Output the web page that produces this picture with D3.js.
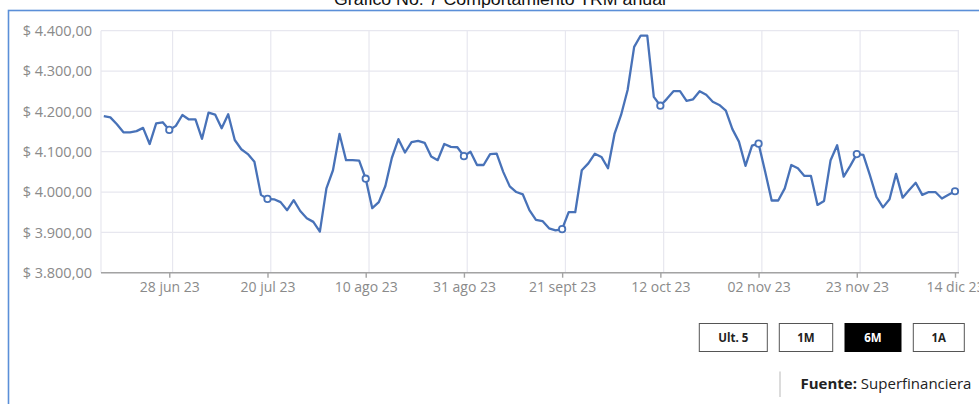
<!DOCTYPE html>
<html><head><meta charset="utf-8">
<script src="https://cdn.jsdelivr.net/npm/d3@7"></script>
<style>
html,body{margin:0;padding:0;background:#fff;}
svg{display:block;}
</style></head>
<body>
<svg id="c" width="979" height="404"></svg>
<script>
// ---- data ----
const title = "Gráfico No. 7 Comportamiento TRM anual";
const trmValues = [
4188,4185,4168,4148,4148,4151,4159,4119,4170,4173,
4154,4164,4191,4180,4180,4132,4197,4192,4158,4193,
4129,4106,4094,4075,3993,3983,3982,3975,3955,3980,
3953,3935,3926,3902,4009,4054,4144,4079,4079,4078,
4033,3960,3975,4015,4085,4131,4098,4124,4127,4122,
4088,4079,4119,4112,4111,4089,4100,4067,4067,4094,
4095,4050,4014,4000,3994,3955,3931,3928,3910,3905,
3908,3950,3950,4054,4071,4095,4087,4059,4144,4191,
4253,4360,4388,4388,4236,4214,4231,4250,4250,4226,
4230,4250,4241,4224,4216,4202,4156,4125,4065,4115,
4120,4051,3979,3979,4009,4067,4059,4040,4040,3968,
3978,4079,4116,4038,4065,4094,4092,4042,3988,3962,
3982,4045,3986,4005,4023,3993,4000,4000,3984,3993,
4002];
const tickIndex = [10,25,40,55,70,85,100,115,130];
const tickLabels = ["28 jun 23","20 jul 23","10 ago 23","31 ago 23","21 sept 23","12 oct 23","02 nov 23","23 nov 23","14 dic 23"];
const yTicks = [3800,3900,4000,4100,4200,4300,4400];
const buttons = ["Ult. 5","1M","6M","1A"];
const activeButton = "6M";
const sourceLabel = "Fuente:";
const sourceText = " Superfinanciera";

// ---- layout ----
const svg = d3.select("#c");
const plotL = 101, plotR = 959, plotT = 30.7, plotB = 272.7;
const x = d3.scaleLinear().domain([0, trmValues.length - 1]).range([103.8, 955]);
const y = d3.scaleLinear().domain([3800, 4400]).range([plotB, plotT]);
const loc = d3.formatLocale({decimal: ",", thousands: ".", grouping: [3], currency: ["$ ", ""]});
const fmt = loc.format("$,.2f");
const gray = "#8a8a8a";
const font = "'Open Sans', sans-serif";

// frame
svg.append("rect").attr("x", 8.5).attr("y", 10.5).attr("width", 1000).attr("height", 420)
  .attr("fill", "none").attr("stroke", "#5b8fd8").attr("stroke-width", 1.6);

// title
svg.append("text").attr("x", 500).attr("y", 4.5).attr("text-anchor", "middle")
  .attr("font-family", "'Liberation Sans', Arial, sans-serif").attr("font-size", 16)
  .attr("textLength", 332).attr("lengthAdjust", "spacingAndGlyphs")
  .attr("fill", "#111").text(title);

// grid horizontal
svg.append("g").selectAll("line").data(yTicks).join("line")
  .attr("x1", plotL).attr("x2", plotR)
  .attr("y1", d => y(d)).attr("y2", d => y(d))
  .attr("stroke", "#e7e7ef").attr("stroke-width", 1.2);
// grid vertical
svg.append("line").attr("x1", plotL).attr("x2", plotL).attr("y1", plotT).attr("y2", plotB)
  .attr("stroke", "#e7e7ef").attr("stroke-width", 1.2);
svg.append("g").selectAll("line").data(tickIndex).join("line")
  .attr("x1", d => x(d) + 3.3).attr("x2", d => x(d) + 3.3)
  .attr("y1", plotT).attr("y2", plotB)
  .attr("stroke", "#e7e7ef").attr("stroke-width", 1.2);

// y axis labels
const yAxis = svg.append("g").attr("transform", `translate(${92},0)`)
  .call(d3.axisLeft(y).tickValues(yTicks).tickFormat(fmt).tickSize(0).tickPadding(0));
yAxis.select(".domain").remove();
yAxis.selectAll("text").attr("font-family", font).attr("font-size", 14.5).attr("fill", gray);

// x axis
svg.append("line").attr("x1", plotL).attr("x2", plotR).attr("y1", plotB).attr("y2", plotB)
  .attr("stroke", "#a3a3a3").attr("stroke-width", 1.6);
const xAxis = svg.append("g").attr("transform", `translate(0,${plotB})`)
  .call(d3.axisBottom(x).tickValues(tickIndex).tickFormat((d, i) => tickLabels[i]).tickSize(5).tickPadding(4).tickSizeOuter(0));
xAxis.select(".domain").remove();
xAxis.selectAll(".tick line").attr("stroke", "#a3a3a3").attr("stroke-width", 1.4);
xAxis.selectAll("text").attr("font-family", font).attr("font-size", 14).attr("fill", gray);

// line
const line = d3.line().x((d, i) => x(i)).y(d => y(d));
svg.append("path").datum(trmValues).attr("d", line)
  .attr("fill", "none").attr("stroke", "#4872b8").attr("stroke-width", 2.3)
  .attr("stroke-linejoin", "round");
svg.append("g").selectAll("circle").data(tickIndex).join("circle")
  .attr("cx", d => x(d)).attr("cy", d => y(trmValues[d])).attr("r", 3.2)
  .attr("fill", "#fff").attr("stroke", "#4872b8").attr("stroke-width", 1.8);

// buttons
const bx = d3.scaleOrdinal().domain(buttons).range([699.3, 779.3, 845, 913.3]);
const bw = d3.scaleOrdinal().domain(buttons).range([68, 53.4, 56, 51]);
const bg = svg.append("g").selectAll("g").data(buttons).join("g")
  .attr("transform", d => `translate(${bx(d)},323.5)`);
bg.append("rect").attr("width", d => bw(d)).attr("height", 28)
  .attr("fill", d => d === activeButton ? "#000" : "#fff")
  .attr("stroke", d => d === activeButton ? "#000" : "#555").attr("stroke-width", 1);
bg.append("text").attr("x", d => bw(d) / 2).attr("y", 18.5).attr("text-anchor", "middle")
  .attr("font-family", font).attr("font-weight", 700).attr("font-size", 11.5)
  .attr("fill", d => d === activeButton ? "#fff" : "#222").text(d => d);

// source
svg.append("line").attr("x1", 780).attr("x2", 780).attr("y1", 371.5).attr("y2", 397)
  .attr("stroke", "#dcdcdc").attr("stroke-width", 2);
const st = svg.append("text").attr("x", 800.5).attr("y", 389)
  .attr("font-family", font).attr("font-size", 15).attr("fill", "#222");
st.append("tspan").attr("font-weight", 700).text(sourceLabel);
st.append("tspan").text(sourceText);
</script>
</body></html>
